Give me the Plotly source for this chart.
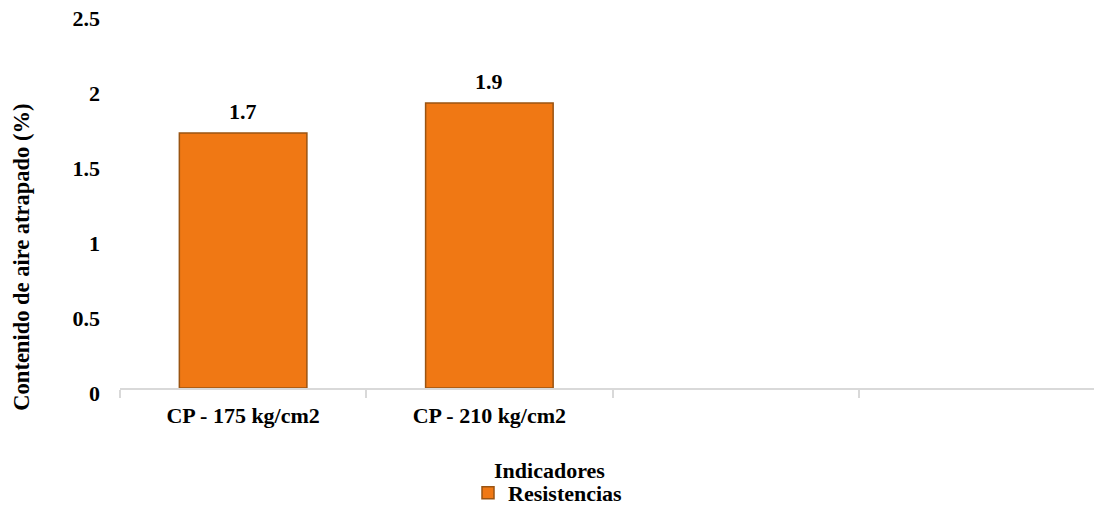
import plotly.graph_objects as go

categories = ["CP - 175 kg/cm2", "CP - 210 kg/cm2", " ", "  "]
values = [1.7, 1.9, None, None]
value_labels = ["1.7", "1.9"]
series_name = "Resistencias"
y_ticks = [0, 0.5, 1, 1.5, 2, 2.5]
y_tick_text = ["0", "0.5", "1", "1.5", "2", "2.5"]
x_title = "Indicadores"
y_title = "Contenido de aire atrapado (%)"

FONT = "Liberation Serif, Times New Roman, serif"
FS = 22

fig = go.Figure()
fig.add_trace(go.Bar(
    x=categories, y=values, name="<b>" + series_name + "</b>",
    marker=dict(color="#F07814", line=dict(color="#9A5412", width=1.5)),
    width=0.518,
))

annotations = []
for c, v, t in zip(categories, values, value_labels):
    annotations.append(dict(x=c, y=v, text="<b>" + t + "</b>", showarrow=False,
                            xref="x", yref="y", yanchor="bottom", yshift=7,
                            font=dict(family=FONT, size=FS, color="black")))
annotations.append(dict(text="<b>" + x_title + "</b>", xref="paper", yref="paper",
                        x=0.4365, y=-0.221, xanchor="center", yanchor="middle", showarrow=False,
                        font=dict(family=FONT, size=FS, color="black")))
annotations.append(dict(text="<b>" + y_title + "</b>", xref="paper", yref="paper",
                        x=-0.1, y=0.349, xanchor="center", yanchor="middle", showarrow=False,
                        textangle=-90, font=dict(family=FONT, size=22.5, color="black")))

fig.update_layout(
    width=1102, height=508,
    margin=dict(l=112, r=5, t=5, b=128, autoexpand=False),
    paper_bgcolor="white", plot_bgcolor="white",
    font=dict(family=FONT, size=FS, color="black"),
    showlegend=True,
    legend=dict(orientation="h", x=0.3533, xanchor="left", y=-0.28, yanchor="middle",
                font=dict(family=FONT, size=FS, color="black"),
                itemwidth=30, bgcolor="rgba(0,0,0,0)"),
    xaxis=dict(type="category", categoryorder="array", categoryarray=categories,
               range=[-0.5, 3.5], showline=True, linecolor="#d9d9d9", linewidth=2,
               ticks="outside", tickson="boundaries", tickcolor="#d9d9d9", ticklen=8, tickwidth=2,
               showgrid=False, automargin=False, tickprefix="<b>", ticksuffix="</b>",
               ticklabelstandoff=7,
               tickfont=dict(family=FONT, size=FS, color="black")),
    yaxis=dict(range=[0, 2.5], tickvals=y_ticks,
               ticktext=["<b>" + t + "</b>" for t in y_tick_text], showgrid=False,
               zeroline=False, showline=False, ticks="", ticklabelstandoff=19,
               ticklabeloverflow="allow", ticklabelshift=5,
               automargin=False,
               tickfont=dict(family=FONT, size=FS, color="black")),
    annotations=annotations,
)

fig.write_html("out.html")
